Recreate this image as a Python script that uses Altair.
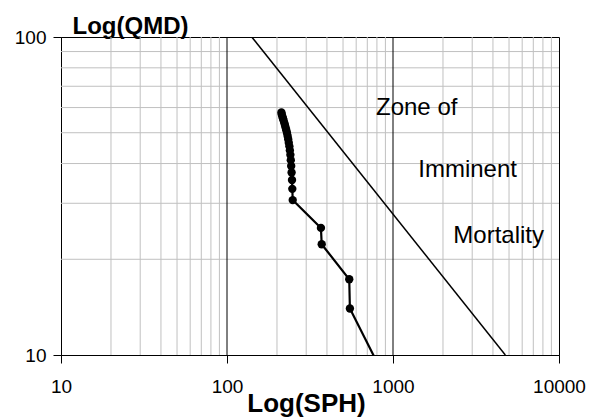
import altair as alt
import pandas as pd

# Stand trajectory: stems per hectare vs quadratic mean diameter (cm)
sph = [800, 550, 545, 372, 368,
       248.8, 247.4, 246.4, 245.0, 243.6, 242.3, 240.9, 239.2, 237.6, 235.6, 233.7,
       231.8, 229.8, 227.6, 225.4, 223.3, 221.1, 219.0, 217.2, 215.4, 213.8, 212.7]
qmd = [9.5, 14.0, 17.3, 22.3, 25.1,
       30.7, 33.3, 35.5, 37.5, 39.3, 41.0, 42.6, 44.0, 45.3, 46.5, 47.7,
       48.8, 49.9, 50.9, 51.9, 52.9, 53.8, 54.7, 55.5, 56.3, 57.1, 57.9]

# Maximum size-density (self-thinning) limit
limit_sph = [141, 4750]
limit_qmd = [100, 10]

# Zone annotation
zone_text = ["Zone of", "Imminent", "Mortality"]
zone_sph = [790, 1420, 2308]
zone_qmd = [56.8, 36.4, 22.5]

# Axis ticks and log grid
x_ticks = [10, 100, 1000, 10000]
y_ticks = [10, 100]
x_major_grid = [100, 1000]
x_minor_grid = [m * d for d in (10, 100, 1000) for m in range(2, 10)]
y_minor_grid = [m * 10 for m in range(2, 10)]

FONT = "Liberation Sans"

x_scale = alt.Scale(type="log", domain=[10, 10000], nice=False)
y_scale = alt.Scale(type="log", domain=[10, 100], nice=False)

x_axis = alt.Axis(
    values=x_ticks, format="d", grid=False,
    tickSize=8, tickColor="black", domainColor="black",
    labelFont=FONT, labelFontSize=19, labelColor="black",
    labelPadding=14, labelFlush=False, labelOverlap=False,
    title="Log(SPH)", titleFont=FONT, titleFontSize=26, titleFontWeight="bold",
    titleColor="black", titleX=245, titleY=56, titleAlign="center",
    titleBaseline="alphabetic",
)
y_axis = alt.Axis(
    values=y_ticks, format="d", grid=False,
    tickSize=8, tickColor="black", domainColor="black",
    labelFont=FONT, labelFontSize=19, labelColor="black",
    labelPadding=7, labelFlush=False, labelOverlap=False,
    title="Log(QMD)", titleFont=FONT, titleFontSize=24, titleFontWeight="bold",
    titleColor="black", titleAngle=0, titleX=69, titleY=-4, titleAlign="center",
    titleBaseline="alphabetic",
)


def X(field):
    return alt.X(field, type="quantitative", scale=x_scale, axis=x_axis)


def Y(field):
    return alt.Y(field, type="quantitative", scale=y_scale, axis=y_axis)


traj = pd.DataFrame({"sph": sph, "qmd": qmd, "step": list(range(len(sph)))})
limit = pd.DataFrame({"sph": limit_sph, "qmd": limit_qmd})
zone = pd.DataFrame({"label": zone_text, "sph": zone_sph, "qmd": zone_qmd})

minor_x = alt.Chart(pd.DataFrame({"v": x_minor_grid})).mark_rule(
    color="#c0c0c0", strokeWidth=1
).encode(x=X("v"))

minor_y = alt.Chart(pd.DataFrame({"v": y_minor_grid})).mark_rule(
    color="#c0c0c0", strokeWidth=1
).encode(y=Y("v"))

major_x = alt.Chart(pd.DataFrame({"v": x_major_grid})).mark_rule(
    color="black", strokeWidth=1
).encode(x=X("v"))

limit_line = alt.Chart(limit).mark_line(
    color="black", strokeWidth=1.5, clip=True
).encode(x=X("sph"), y=Y("qmd"))

traj_line = alt.Chart(traj).mark_line(
    color="black", strokeWidth=2.2, clip=True
).encode(x=X("sph"), y=Y("qmd"), order=alt.Order("step:Q"))

traj_pts = alt.Chart(traj).mark_point(
    filled=True, shape="circle", color="black", opacity=1, size=70, clip=True
).encode(x=X("sph"), y=Y("qmd"))

labels = alt.Chart(zone).mark_text(
    align="left", baseline="alphabetic", font=FONT, fontSize=24, color="black"
).encode(x=X("sph"), y=Y("qmd"), text="label:N")

chart = alt.layer(
    minor_x, minor_y, major_x, limit_line, traj_line, traj_pts, labels
).properties(
    width=498,
    height=318,
    autosize=alt.AutoSizeParams(type="none"),
    padding={"left": 61, "top": 37, "right": 37, "bottom": 62},
    background="white",
).configure_view(
    stroke="black", strokeWidth=1
)

chart.save("out.html", embed_options={"renderer": "svg", "actions": False})
